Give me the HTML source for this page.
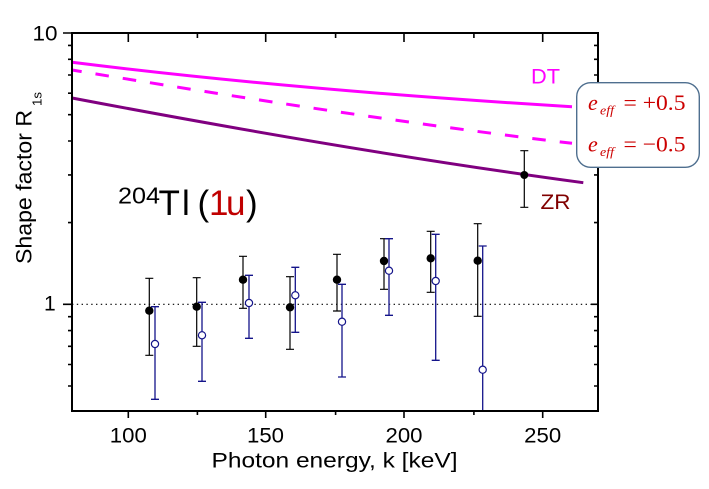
<!DOCTYPE html>
<html><head><meta charset="utf-8"><style>
html,body{margin:0;padding:0;background:#fff;}
svg{display:block;}
text{font-family:"Liberation Sans",Arial,sans-serif;}
.serif{font-family:"Liberation Serif","Times New Roman",serif;}
</style></head><body>
<svg width="709" height="489" viewBox="0 0 709 489" xmlns="http://www.w3.org/2000/svg">
<rect width="709" height="489" fill="#fff"/>

<!-- dotted line at 1 -->
<line x1="72" y1="304.3" x2="598" y2="304.3" stroke="#000" stroke-width="1.2" stroke-dasharray="1.4 3.4"/>

<!-- curves -->
<path d="M72 62.3 Q293.5 90 572 106.7" fill="none" stroke="#ff00ff" stroke-width="3"/>
<path d="M72 70 Q376 120.2 572 143.3" fill="none" stroke="#ff00ff" stroke-width="3" stroke-dasharray="13.6 14" stroke-dashoffset="3.9"/>
<path d="M72 98 Q357.8 152.3 583.3 182.7" fill="none" stroke="#800080" stroke-width="3"/>

<!-- black error bars -->
<g stroke="#000" stroke-width="1.2" fill="none">
<path d="M149.3 278.3V355.3M145.3 278.3h8M145.3 355.3h8"/>
<path d="M196.7 277.7V346.3M192.7 277.7h8M192.7 346.3h8"/>
<path d="M243 256.3V308.3M239 256.3h8M239 308.3h8"/>
<path d="M290 276.7V349.3M286 276.7h8M286 349.3h8"/>
<path d="M337 254.3V311M333 254.3h8M333 311h8"/>
<path d="M384 238.7V289.3M380 238.7h8M380 289.3h8"/>
<path d="M430.7 231.3V292.3M426.7 231.3h8M426.7 292.3h8"/>
<path d="M477.7 223.7V316.3M473.7 223.7h8M473.7 316.3h8"/>
<path d="M524.3 150.7V207.3M520.3 150.7h8M520.3 207.3h8"/>
</g>
<g fill="#000">
<circle cx="149.3" cy="310.7" r="4.2"/>
<circle cx="196.7" cy="306.7" r="4.2"/>
<circle cx="243" cy="279.7" r="4.2"/>
<circle cx="290" cy="307.3" r="4.2"/>
<circle cx="337" cy="279.7" r="4.2"/>
<circle cx="384" cy="261" r="4.2"/>
<circle cx="430.7" cy="258.3" r="4.2"/>
<circle cx="477.7" cy="260.7" r="4.2"/>
<circle cx="524.3" cy="175" r="4"/>
</g>

<!-- blue error bars -->
<g stroke="#14148a" stroke-width="1.3" fill="none">
<path d="M155 306.7V399.3M151 306.7h8M151 399.3h8"/>
<path d="M202 302.3V381.3M198 302.3h8M198 381.3h8"/>
<path d="M249 275.3V338.3M245 275.3h8M245 338.3h8"/>
<path d="M295.3 267.3V332.3M291.3 267.3h8M291.3 332.3h8"/>
<path d="M342 284.3V377M338 284.3h8M338 377h8"/>
<path d="M389 238.7V315.3M385 238.7h8M385 315.3h8"/>
<path d="M435.7 234.3V360.3M431.7 234.3h8M431.7 360.3h8"/>
<path d="M482.7 246V411M478.7 246h8"/>
</g>
<g fill="#fff" stroke="#14148a" stroke-width="1.2">
<circle cx="155" cy="344" r="3.6"/>
<circle cx="202" cy="335.3" r="3.6"/>
<circle cx="249" cy="303" r="3.6"/>
<circle cx="295.3" cy="295.3" r="3.6"/>
<circle cx="342" cy="321.7" r="3.6"/>
<circle cx="389" cy="270.7" r="3.6"/>
<circle cx="435.7" cy="281" r="3.6"/>
<circle cx="482.7" cy="369.7" r="3.6"/>
</g>

<!-- axes frame -->
<rect x="72" y="33" width="526" height="378" fill="none" stroke="#000" stroke-width="2"/>

<!-- ticks -->
<g stroke="#000" stroke-width="1.6">
<!-- bottom (outward) -->
<path d="M128.3 411v7M265.7 411v7M404 411v7M542.7 411v7"/>
<path d="M197.4 411v4M335.6 411v4M473.9 411v4"/>
<!-- top (inward) -->
<path d="M128.3 33v9M265.7 33v9M404 33v9M542.7 33v9"/>
<path d="M197.4 33v5M335.6 33v5M473.9 33v5"/>
<!-- left (outward) -->
<path d="M63 33h9M63 304.3h9"/>
<path d="M68 45.4h4M68 59.3h4M68 75h4M68 93.2h4M68 114.7h4M68 141h4M68 174.9h4M68 222.6h4M68 316.7h4M68 330.6h4M68 346.3h4M68 364.5h4M68 386h4"/>
<!-- right (inward) -->
<path d="M598 304.3h-7"/>
<path d="M598 45.4h-4M598 59.3h-4M598 75h-4M598 93.2h-4M598 114.7h-4M598 141h-4M598 174.9h-4M598 222.6h-4M598 316.7h-4M598 330.6h-4M598 346.3h-4M598 364.5h-4M598 386h-4"/>
</g>

<!-- tick labels -->
<g font-size="21" fill="#000">
<text x="128.3" y="442.3" text-anchor="middle" textLength="37" lengthAdjust="spacingAndGlyphs">100</text>
<text x="265.5" y="442.3" text-anchor="middle" textLength="37" lengthAdjust="spacingAndGlyphs">150</text>
<text x="404" y="442.3" text-anchor="middle" textLength="37" lengthAdjust="spacingAndGlyphs">200</text>
<text x="542.7" y="442.3" text-anchor="middle" textLength="37" lengthAdjust="spacingAndGlyphs">250</text>
<text x="32.5" y="40.7" textLength="25" lengthAdjust="spacingAndGlyphs">10</text>
<text x="44" y="310.7">1</text>
</g>

<!-- axis titles -->
<text x="211.5" y="467.7" font-size="21" textLength="246" lengthAdjust="spacingAndGlyphs">Photon energy, k [keV]</text>
<text transform="translate(31.7,264) rotate(-90)" font-size="22" textLength="154" lengthAdjust="spacingAndGlyphs">Shape factor R</text>
<text transform="translate(41.7,106) rotate(-90)" font-size="13" textLength="14" lengthAdjust="spacingAndGlyphs">1s</text>

<!-- curve labels -->
<text x="531" y="83.3" font-size="21" fill="#ff00ff" textLength="29" lengthAdjust="spacingAndGlyphs">DT</text>
<text x="540.5" y="209" font-size="21" fill="#800000" textLength="30" lengthAdjust="spacingAndGlyphs">ZR</text>

<!-- 204Tl (1u) label -->
<text x="118" y="203.3" font-size="23" textLength="42" lengthAdjust="spacingAndGlyphs">204</text>
<text y="215" font-size="35" fill="#000"><tspan x="158.5">T</tspan><tspan x="182">l</tspan><tspan x="197.5">(</tspan><tspan x="209" fill="#c00000">1</tspan><tspan x="226" fill="#c00000">u</tspan><tspan x="246">)</tspan></text>

<!-- legend box -->
<rect x="576.7" y="82.7" width="122.6" height="84.6" rx="14" ry="14" fill="#fff" stroke="#4f6f8f" stroke-width="1.4"/>
<g class="serif" fill="#cc0000">
<text x="588" y="110" font-size="22" font-style="italic" class="serif">e</text>
<text x="600" y="114.5" font-size="13" font-style="italic" class="serif" textLength="14" lengthAdjust="spacingAndGlyphs">eff</text>
<text x="623.5" y="110" font-size="22" class="serif" textLength="62" lengthAdjust="spacingAndGlyphs">= +0.5</text>
<text x="588" y="151.7" font-size="22" font-style="italic" class="serif">e</text>
<text x="600" y="156.2" font-size="13" font-style="italic" class="serif" textLength="14" lengthAdjust="spacingAndGlyphs">eff</text>
<text x="623.5" y="151.7" font-size="22" class="serif" textLength="62" lengthAdjust="spacingAndGlyphs">= −0.5</text>
</g>
</svg>
</body></html>
